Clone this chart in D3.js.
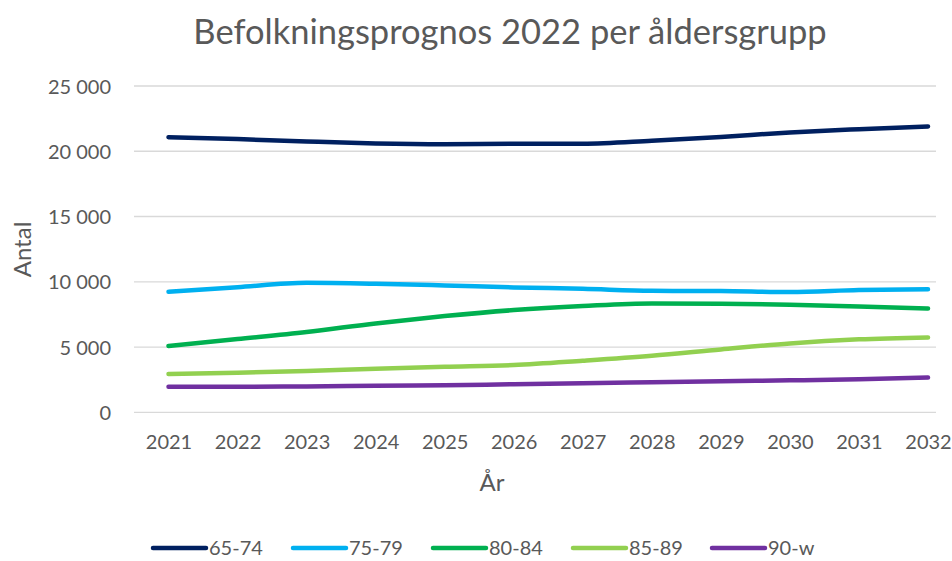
<!DOCTYPE html>
<html><head><meta charset="utf-8">
<script src="https://cdn.jsdelivr.net/npm/d3@7"></script>
<style>body{margin:0;background:#fff}svg{display:block}text{font-family:Lato,"Open Sans",sans-serif;fill:#595959}</style>
</head><body><svg id="c" width="952" height="561"></svg>
<script>
const years = [2021,2022,2023,2024,2025,2026,2027,2028,2029,2030,2031,2032];
const s6574 = [21080,20930,20750,20600,20540,20570,20570,20800,21100,21440,21690,21900];
const s7579 = [9230,9590,9920,9850,9720,9570,9460,9310,9290,9210,9370,9430];
const s8084 = [5080,5610,6150,6810,7370,7830,8140,8340,8320,8240,8110,7960];
const s8589 = [2930,3030,3160,3340,3490,3620,3950,4330,4820,5280,5590,5740];
const s90w  = [1960,1960,1980,2030,2070,2150,2220,2300,2380,2450,2530,2660];
const seriesNames = ["65-74","75-79","80-84","85-89","90-w"];
const seriesColors = ["#002060","#00B0F0","#00B050","#92D050","#7030A0"];
const yTicks = [0,5000,10000,15000,20000,25000];
const title = "Befolkningsprognos 2022 per åldersgrupp";

const allSeries = [s6574,s7579,s8084,s8589,s90w];
const svg = d3.select("#c");
const x = d3.scalePoint().domain(years).range([168.5,928]);
const y = d3.scaleLinear().domain([0,25000]).range([412.3,86]);
const fmt = v => d3.format(",")(v).replace(/,/g," ");

// gridlines
svg.append("g").selectAll("line").data(yTicks).join("line")
  .attr("x1",134).attr("x2",936).attr("y1",d=>y(d)).attr("y2",d=>y(d))
  .attr("stroke","#d9d9d9").attr("stroke-width",1.3);

// y axis
const ya = svg.append("g").attr("transform","translate(111,0)")
  .call(d3.axisLeft(y).tickValues(yTicks).tickFormat(fmt).tickSize(0).tickPadding(0));
ya.select(".domain").remove();
ya.selectAll("text").style("font-size","20px").attr("fill","#595959").attr("dy","0.35em");

// x axis
const xa = svg.append("g").attr("transform","translate(0,412)")
  .call(d3.axisBottom(x).tickFormat(d=>d).tickSize(0).tickPadding(23));
xa.select(".domain").remove();
xa.selectAll("text").style("font-size","20px").attr("fill","#595959");

// lines
const line = d3.line().x((d,i)=>x(years[i])).y(d=>y(d)).curve(d3.curveMonotoneX);
svg.append("g").selectAll("path").data(allSeries).join("path")
  .attr("d",line).attr("fill","none")
  .attr("stroke",(d,i)=>seriesColors[i]).attr("stroke-width",4.5)
  .attr("stroke-linecap","round").attr("stroke-linejoin","round");

// titles
svg.append("text").attr("x",510).attr("y",44).attr("text-anchor","middle")
  .style("font-size","34.5px").text(title);
svg.append("text").attr("x",492).attr("y",491).attr("text-anchor","middle")
  .style("font-size","24px").text("År");
svg.append("text").attr("transform","translate(31,249.5) rotate(-90)").attr("text-anchor","middle")
  .style("font-size","24px").text("Antal");

// legend
const legX = [152,292,432,572,711];
const lg = svg.append("g").selectAll("g").data(seriesNames).join("g")
  .attr("transform",(d,i)=>`translate(${legX[i]},548)`);
lg.append("line").attr("x1",1).attr("x2",54).attr("y1",0).attr("y2",0)
  .attr("stroke",(d,i)=>seriesColors[i]).attr("stroke-width",4.5).attr("stroke-linecap","round");
lg.append("text").attr("x",57).attr("dy","0.35em").style("font-size","20px").text(d=>d);
</script></body></html>
